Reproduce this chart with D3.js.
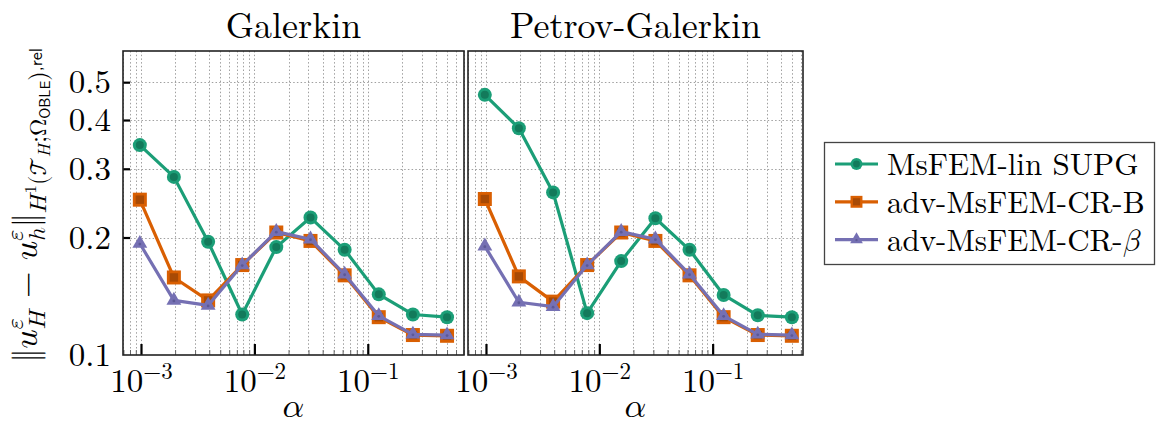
<!DOCTYPE html>
<html>
<head>
<meta charset="utf-8">
<script src="https://cdn.jsdelivr.net/npm/d3@7"></script>
</head>
<body style="margin:0; background:#fff">
<svg id="chart" width="1156" height="430" style="display:block"></svg>
<script>
// alpha values (x axis)
const alphas = [0.000977, 0.00195, 0.00391, 0.00781, 0.0156, 0.03125, 0.0625, 0.125, 0.25, 0.5];

// Galerkin panel
const galSupg   = [0.345, 0.286, 0.195, 0.127, 0.189, 0.225, 0.186, 0.143, 0.127, 0.125];
const galCrB    = [0.250, 0.158, 0.138, 0.170, 0.206, 0.196, 0.160, 0.125, 0.1125, 0.112];
const galCrBeta = [0.193, 0.138, 0.134, 0.170, 0.207, 0.198, 0.161, 0.126, 0.113, 0.1125];

// Petrov-Galerkin panel
const pgSupg   = [0.464, 0.381, 0.261, 0.128, 0.174, 0.224, 0.186, 0.1425, 0.1264, 0.125];
const pgCrB    = [0.251, 0.159, 0.137, 0.170, 0.206, 0.196, 0.160, 0.125, 0.1125, 0.112];
const pgCrBeta = [0.190, 0.1365, 0.133, 0.170, 0.207, 0.198, 0.161, 0.126, 0.113, 0.1125];

const seriesNames = ["MsFEM-lin SUPG", "adv-MsFEM-CR-B", "adv-MsFEM-CR-"];
const panelTitles = ["Galerkin", "Petrov-Galerkin"];
const xTickValues = [0.001, 0.01, 0.1];
const xTickExps = ["−3", "−2", "−1"];
const yTickValues = [0.1, 0.2, 0.3, 0.4, 0.5];
const yTickLabels = ["0.1", "0.2", "0.3", "0.4", "0.5"];

const colors = ["#1b9e77", "#d95f02", "#7570b3"];
const darker = ["#137a5b", "#a84a05", "#5c5896"];
const shapes = ["circle", "square", "triangle"];

const SERIF = "'Latin Modern Roman', 'Liberation Serif', serif";
const MATH = "'Latin Modern Math', 'Latin Modern Roman', 'DejaVu Serif', serif";
const SANS = "'Latin Modern Sans', 'Liberation Sans', sans-serif";

const svg = d3.select("#chart");

// shared y scale
const y = d3.scaleLog().domain([0.1, 0.601]).range([355, 51]);

// panel geometry
const panels = [
  { x0: 123, x1: 464, dom: [6.94e-4, 0.7056], data: [galSupg, galCrB, galCrBeta], yLabels: true },
  { x0: 468, x1: 803, dom: [6.94e-4, 0.627], data: [pgSupg, pgCrB, pgCrBeta], yLabels: false }
];

// minor x positions (k x 10^e)
function minorTicks(dom) {
  const out = [];
  for (let e = -4; e <= 0; e++) {
    for (let k = 1; k <= 9; k++) {
      const v = k * Math.pow(10, e);
      if (v >= dom[0] && v <= dom[1]) out.push(v);
    }
  }
  return out;
}

function drawMarker(g, shape, cx, cy, i, size) {
  const s = size || 1;
  if (shape === "circle") {
    g.append("circle").attr("cx", cx).attr("cy", cy).attr("r", 7 * s).attr("fill", colors[i]);
    g.append("circle").attr("cx", cx).attr("cy", cy).attr("r", 4 * s).attr("fill", darker[i]);
  } else if (shape === "square") {
    g.append("rect").attr("x", cx - 7 * s).attr("y", cy - 7 * s)
      .attr("width", 14 * s).attr("height", 14 * s).attr("fill", colors[i]);
    g.append("rect").attr("x", cx - 4.2 * s).attr("y", cy - 4.2 * s)
      .attr("width", 8.4 * s).attr("height", 8.4 * s).attr("fill", darker[i]);
  } else {
    const r = 8.6 * s;
    const pts = [[cx, cy - r], [cx + r * 0.866, cy + r * 0.5], [cx - r * 0.866, cy + r * 0.5]];
    g.append("path").attr("d", "M" + pts.join("L") + "Z").attr("fill", colors[i]);
    g.append("circle").attr("cx", cx).attr("cy", cy + 0.5).attr("r", 1.4 * s).attr("fill", darker[i]);
  }
}

panels.forEach((p, pi) => {
  const x = d3.scaleLog().domain(p.dom).range([p.x0, p.x1]);
  const g = svg.append("g");

  // grid
  const grid = g.append("g").attr("stroke", "#a0a0a0").attr("stroke-width", 1)
    .attr("stroke-dasharray", "1.5,2.2");
  minorTicks(p.dom).forEach(v => {
    grid.append("line").attr("x1", Math.round(x(v)) + 0.5).attr("x2", Math.round(x(v)) + 0.5)
      .attr("y1", y.range()[1]).attr("y2", y.range()[0]);
  });
  yTickValues.slice(1).forEach(v => {
    grid.append("line").attr("x1", p.x0).attr("x2", p.x1)
      .attr("y1", Math.round(y(v)) + 0.5).attr("y2", Math.round(y(v)) + 0.5);
  });

  // minor x ticks (inward)
  const minorAxis = d3.axisBottom(x).tickValues(minorTicks(p.dom)).tickSize(-5).tickFormat("");
  g.append("g").attr("transform", "translate(0,355)").call(minorAxis)
    .call(a => a.select(".domain").remove())
    .call(a => a.selectAll("line").attr("stroke", "#666").attr("stroke-width", 1));

  // major x ticks with labels
  const majorAxis = d3.axisBottom(x).tickValues(xTickValues).tickSize(-11).tickFormat("");
  const ax = g.append("g").attr("transform", "translate(0,355)").call(majorAxis);
  ax.select(".domain").remove();
  ax.selectAll("line").attr("stroke", "#000").attr("stroke-width", 2.2);
  ax.selectAll(".tick").each(function(d, i) {
    const t = d3.select(this).append("text")
      .attr("y", 37).attr("text-anchor", "middle").attr("fill", "#000")
      .style("font-family", SERIF).style("font-size", "33px");
    t.append("tspan").text("10");
    t.append("tspan").attr("dy", -13).style("font-size", "23px").text(xTickExps[i]);
  });

  // y ticks
  if (p.yLabels) {
    const yAxis = d3.axisLeft(y).tickValues(yTickValues.slice(1)).tickSize(-7).tickFormat("");
    const ay = g.append("g").attr("transform", "translate(" + p.x0 + ",0)").call(yAxis);
    ay.select(".domain").remove();
    ay.selectAll("line").attr("stroke", "#000").attr("stroke-width", 2.2);
    yTickValues.forEach((v, i) => {
      g.append("text").attr("x", 111).attr("y", y(v) + 11)
        .attr("text-anchor", "end").style("font-family", SERIF)
        .style("font-size", "33px").text(yTickLabels[i]);
    });
  }

  // series
  p.data.forEach((vals, si) => {
    const line = d3.line().x((d, i) => x(alphas[i])).y(d => y(d));
    const sg = g.append("g");
    sg.append("path").datum(vals).attr("d", line)
      .attr("fill", "none").attr("stroke", colors[si]).attr("stroke-width", 3.2)
      .attr("stroke-linejoin", "round");
    vals.forEach((v, i) => drawMarker(sg, shapes[si], x(alphas[i]), y(v), si));
  });

  // frame
  g.append("rect").attr("x", p.x0).attr("y", 51)
    .attr("width", p.x1 - p.x0).attr("height", 304)
    .attr("fill", "none").attr("stroke", "#222").attr("stroke-width", 1.6);

  // title
  g.append("text").attr("x", (p.x0 + p.x1) / 2).attr("y", 38)
    .attr("text-anchor", "middle").style("font-family", SERIF)
    .style("font-size", "36px").text(panelTitles[pi]);

  // x label
  g.append("text").attr("x", (p.x0 + p.x1) / 2).attr("y", 417)
    .attr("text-anchor", "middle").style("font-family", MATH)
    .style("font-size", "34px").text("𝛼");
});

// y-axis label, laid out piece by piece
const yLabelParts = [
  { t: "‖", s: 34 },
  { t: "𝑢", s: 34 },
  { t: "𝜀", s: 24, sh: -14, stack: "start" },
  { t: "𝐻", s: 24, sh: 8, stack: "end" },
  { t: " − ", s: 34 },
  { t: "𝑢", s: 34 },
  { t: "𝜀", s: 24, sh: -14, stack: "start" },
  { t: "ℎ", s: 24, sh: 8, stack: "end" },
  { t: "‖", s: 34 },
  { t: "𝐻", s: 24, sh: 9 },
  { t: "1", s: 17, sh: -1 },
  { t: "(", s: 24, sh: 9 },
  { t: "𝒯", s: 24, sh: 9 },
  { t: "𝐻", s: 17, sh: 13 },
  { t: ";", s: 24, sh: 9 },
  { t: "Ω", s: 24, sh: 9 },
  { t: "OBLE", s: 15, sans: true, sh: 13 },
  { t: ")", s: 24, sh: 9 },
  { t: ",rel", s: 18, sans: true, sh: 5 }
];
const yl = svg.append("g");
let cursor = 0, stackStart = 0, stackW = 0;
yLabelParts.forEach(part => {
  const t = yl.append("text").attr("y", part.sh || 0)
    .style("font-size", part.s + "px")
    .style("font-family", part.sans ? SANS : MATH)
    .style("white-space", "pre")
    .text(part.t);
  const w = t.node().getComputedTextLength();
  if (part.stack === "start") {
    stackStart = cursor; stackW = w;
    t.attr("x", cursor);
    cursor += w;
  } else if (part.stack === "end") {
    t.attr("x", stackStart);
    cursor = stackStart + Math.max(w, stackW);
  } else {
    t.attr("x", cursor);
    cursor += w;
  }
});
yl.attr("transform", "translate(37," + (205 + cursor / 2) + ") rotate(-90)");

// legend
const lg = svg.append("g");
lg.append("rect").attr("x", 824.5).attr("y", 142.5).attr("width", 330).attr("height", 122)
  .attr("fill", "#fff").attr("stroke", "#444").attr("stroke-width", 1.3);
seriesNames.forEach((name, i) => {
  const cy = 164 + i * 37.8;
  lg.append("line").attr("x1", 835).attr("x2", 878).attr("y1", cy).attr("y2", cy)
    .attr("stroke", colors[i]).attr("stroke-width", 3.2);
  drawMarker(lg, shapes[i], 856.5, cy, i, 0.85);
  const t = lg.append("text").attr("x", 887).attr("y", cy + 11)
    .style("font-family", SERIF).style("font-size", "31px");
  t.append("tspan").text(name);
  if (i === 2) t.append("tspan").style("font-family", MATH).text("𝛽");
});
</script>
</body>
</html>
